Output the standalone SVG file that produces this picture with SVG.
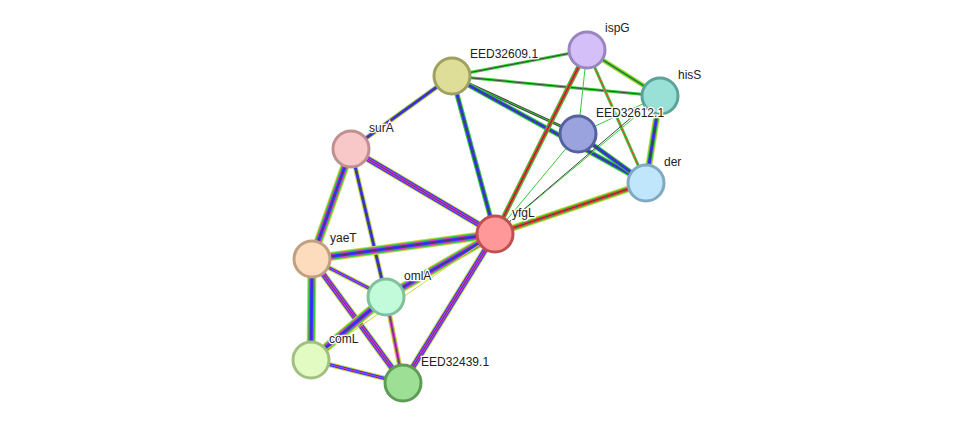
<svg xmlns="http://www.w3.org/2000/svg" width="976" height="430" viewBox="0 0 976 430">
<style>
.e line{fill:none}
.g{stroke:#33cc33}.k{stroke:#444}.b{stroke:#3333ff}.r{stroke:#ff3333}.y{stroke:#c8d840}.m{stroke:#dd33dd}
.w1{stroke-width:1}.w3{stroke-width:3}.w5{stroke-width:5}.w7{stroke-width:7}.w9{stroke-width:9}
.n circle{stroke-width:3}
text{font-family:"Liberation Sans",Arial,sans-serif;font-size:12px;fill:#222;paint-order:stroke;stroke:#fff;stroke-width:2.5px}
</style>
<rect width="976" height="430" fill="#fff"/>
<g id="connectors" class="e">
<g><line x1="452" y1="76" x2="587" y2="50" class="g w3"/><line x1="452" y1="76" x2="587" y2="50" class="k w1"/></g>
<g><line x1="452" y1="76" x2="660" y2="96" class="g w3"/><line x1="452" y1="76" x2="660" y2="96" class="k w1"/></g>
<g><line x1="452" y1="76" x2="578" y2="134" class="k w3"/><line x1="452" y1="76" x2="578" y2="134" class="g w1"/></g>
<g><line x1="452" y1="76" x2="646" y2="183" class="g w5"/><line x1="452" y1="76" x2="646" y2="183" class="b w3"/><line x1="452" y1="76" x2="646" y2="183" class="k w1"/></g>
<g><line x1="452" y1="76" x2="495" y2="234" class="g w5"/><line x1="452" y1="76" x2="495" y2="234" class="b w3"/><line x1="452" y1="76" x2="495" y2="234" class="k w1"/></g>
<g><line x1="452" y1="76" x2="351" y2="149" class="y w5"/><line x1="452" y1="76" x2="351" y2="149" class="b w3"/><line x1="452" y1="76" x2="351" y2="149" class="k w1"/></g>
<g><line x1="587" y1="50" x2="660" y2="96" class="y w5"/><line x1="587" y1="50" x2="660" y2="96" class="g w3"/><line x1="587" y1="50" x2="660" y2="96" class="k w1"/></g>
<g><line x1="587" y1="50" x2="578" y2="134" class="g w1"/></g>
<g><line x1="587" y1="50" x2="646" y2="183" class="g w3"/><line x1="587" y1="50" x2="646" y2="183" class="r w1"/></g>
<g><line x1="587" y1="50" x2="495" y2="234" class="g w5"/><line x1="587" y1="50" x2="495" y2="234" class="r w3"/><line x1="587" y1="50" x2="495" y2="234" class="k w1"/></g>
<g><line x1="660" y1="96" x2="646" y2="183" class="y w7"/><line x1="660" y1="96" x2="646" y2="183" class="g w5"/><line x1="660" y1="96" x2="646" y2="183" class="b w3"/><line x1="660" y1="96" x2="646" y2="183" class="k w1"/></g>
<g><line x1="660" y1="96" x2="578" y2="134" class="g w1"/></g>
<g><line x1="660" y1="96" x2="495" y2="234" class="g w1"/></g>
<g><line x1="578" y1="134" x2="646" y2="183" class="g w5"/><line x1="578" y1="134" x2="646" y2="183" class="b w3"/><line x1="578" y1="134" x2="646" y2="183" class="k w1"/></g>
<g><line x1="578" y1="134" x2="495" y2="234" class="g w1"/></g>
<g><line x1="640" y1="110" x2="495" y2="234" class="k w1"/></g>
<g><line x1="646" y1="183" x2="495" y2="234" class="y w7"/><line x1="646" y1="183" x2="495" y2="234" class="g w5"/><line x1="646" y1="183" x2="495" y2="234" class="r w3"/><line x1="646" y1="183" x2="495" y2="234" class="k w1"/></g>
<g><line x1="351" y1="149" x2="495" y2="234" class="y w7"/><line x1="351" y1="149" x2="495" y2="234" class="b w5"/><line x1="351" y1="149" x2="495" y2="234" class="m w3"/><line x1="351" y1="149" x2="495" y2="234" class="k w1"/></g>
<g><line x1="351" y1="149" x2="312" y2="259" class="y w9"/><line x1="351" y1="149" x2="312" y2="259" class="g w7"/><line x1="351" y1="149" x2="312" y2="259" class="m w5"/><line x1="351" y1="149" x2="312" y2="259" class="b w3"/><line x1="351" y1="149" x2="312" y2="259" class="k w1"/></g>
<g><line x1="351" y1="149" x2="386" y2="297" class="y w5"/><line x1="351" y1="149" x2="386" y2="297" class="b w3"/><line x1="351" y1="149" x2="386" y2="297" class="k w1"/></g>
<g><line x1="312" y1="259" x2="495" y2="234" class="y w9"/><line x1="312" y1="259" x2="495" y2="234" class="g w7"/><line x1="312" y1="259" x2="495" y2="234" class="m w5"/><line x1="312" y1="259" x2="495" y2="234" class="b w3"/><line x1="312" y1="259" x2="495" y2="234" class="k w1"/></g>
<g><line x1="312" y1="259" x2="386" y2="297" class="y w5"/><line x1="312" y1="259" x2="386" y2="297" class="b w3"/><line x1="312" y1="259" x2="386" y2="297" class="m w1"/></g>
<g><line x1="312" y1="259" x2="311" y2="360" class="y w9"/><line x1="312" y1="259" x2="311" y2="360" class="g w7"/><line x1="312" y1="259" x2="311" y2="360" class="m w5"/><line x1="312" y1="259" x2="311" y2="360" class="b w3"/><line x1="312" y1="259" x2="311" y2="360" class="k w1"/></g>
<g><line x1="312" y1="259" x2="403" y2="383" class="y w7"/><line x1="312" y1="259" x2="403" y2="383" class="b w5"/><line x1="312" y1="259" x2="403" y2="383" class="m w3"/><line x1="312" y1="259" x2="403" y2="383" class="k w1"/></g>
<g><line x1="386" y1="297" x2="495" y2="234" class="y w9"/><line x1="386" y1="297" x2="495" y2="234" class="g w7"/><line x1="386" y1="297" x2="495" y2="234" class="m w5"/><line x1="386" y1="297" x2="495" y2="234" class="b w3"/><line x1="386" y1="297" x2="495" y2="234" class="k w1"/></g>
<g><line x1="386" y1="297" x2="311" y2="360" class="y w9"/><line x1="386" y1="297" x2="311" y2="360" class="g w7"/><line x1="386" y1="297" x2="311" y2="360" class="m w5"/><line x1="386" y1="297" x2="311" y2="360" class="b w3"/><line x1="386" y1="297" x2="311" y2="360" class="k w1"/></g>
<g><line x1="386" y1="297" x2="403" y2="383" class="y w5"/><line x1="386" y1="297" x2="403" y2="383" class="m w3"/><line x1="386" y1="297" x2="403" y2="383" class="k w1"/></g>
<g><line x1="311" y1="360" x2="495" y2="234" class="y w1"/></g>
<g><line x1="311" y1="360" x2="403" y2="383" class="y w5"/><line x1="311" y1="360" x2="403" y2="383" class="b w3"/><line x1="311" y1="360" x2="403" y2="383" class="m w1"/></g>
<g><line x1="403" y1="383" x2="495" y2="234" class="y w7"/><line x1="403" y1="383" x2="495" y2="234" class="b w5"/><line x1="403" y1="383" x2="495" y2="234" class="m w3"/><line x1="403" y1="383" x2="495" y2="234" class="k w1"/></g>
</g>
<g id="n-EED32609.1" class="n"><circle cx="452" cy="76" r="18" fill="#dede99" stroke="#a0a060"/><text x="470" y="58">EED32609.1</text></g>
<g id="n-ispG" class="n"><circle cx="587" cy="50" r="18" fill="#d4bff9" stroke="#9a85c0"/><text x="605" y="32">ispG</text></g>
<g id="n-hisS" class="n"><circle cx="660" cy="96" r="18" fill="#99e0d6" stroke="#5ca49a"/><text x="678" y="79">hisS</text></g>
<g id="n-EED32612.1" class="n"><circle cx="578" cy="134" r="18" fill="#9aa3de" stroke="#5562a0"/><text x="596" y="117">EED32612.1</text></g>
<g id="n-der" class="n"><circle cx="646" cy="183" r="18" fill="#bfe6fb" stroke="#80aac0"/><text x="664" y="166">der</text></g>
<g id="n-yfgL" class="n"><circle cx="495" cy="234" r="18" fill="#ff9999" stroke="#c05050"/><text x="512" y="217">yfgL</text></g>
<g id="n-surA" class="n"><circle cx="351" cy="149" r="18" fill="#f8c8c8" stroke="#c09090"/><text x="369" y="132">surA</text></g>
<g id="n-yaeT" class="n"><circle cx="312" cy="259" r="18" fill="#fcdcbc" stroke="#c0a080"/><text x="330" y="242">yaeT</text></g>
<g id="n-omlA" class="n"><circle cx="386" cy="297" r="18" fill="#c2fbd9" stroke="#80c09a"/><text x="404" y="280">omlA</text></g>
<g id="n-comL" class="n"><circle cx="311" cy="360" r="18" fill="#e2fbc2" stroke="#a0c080"/><text x="329" y="343">comL</text></g>
<g id="n-EED32439.1" class="n"><circle cx="403" cy="383" r="18" fill="#9edf96" stroke="#5c9c54"/><text x="421" y="366">EED32439.1</text></g>
</svg>
